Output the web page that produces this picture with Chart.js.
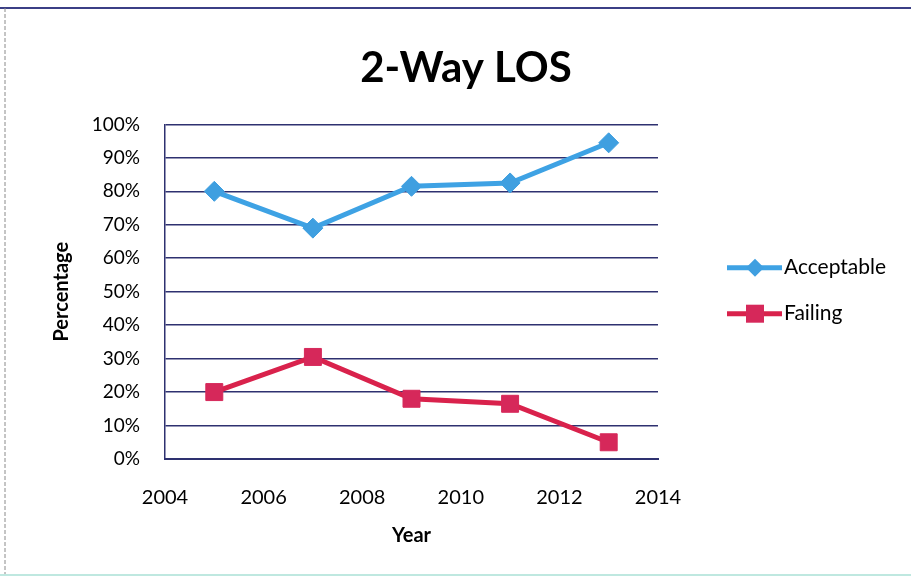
<!DOCTYPE html>
<html lang="en">
<head>
    <meta charset="UTF-8">
    <title>2-Way LOS</title>
    <script src="https://cdn.jsdelivr.net/npm/chart.js"></script>
    <style>
        html, body { margin: 0; padding: 0; background: #fff; }
        #wrap { position: relative; width: 911px; height: 577px; }
    </style>
</head>
<body>
<div id="wrap"><canvas id="losChart"></canvas></div>
<script>
    // data
    const years = [2005, 2007, 2009, 2011, 2013];
    const acceptable = [80, 69, 81.5, 82.5, 94.5];
    const failing = [20, 30.5, 18, 16.5, 5];
    const seriesNames = ['Acceptable', 'Failing'];
    const xTicks = [2004, 2006, 2008, 2010, 2012, 2014];
    const yTicks = [0, 10, 20, 30, 40, 50, 60, 70, 80, 90, 100];

    const FONT = "Lato, 'Open Sans', sans-serif";
    const gridColor = '#2e3170';

    // outer frame lines of the scanned chart
    const framePlugin = {
        id: 'frame',
        beforeDraw(chart) {
            const c = chart.ctx;
            c.save();
            c.fillStyle = '#fff';
            c.fillRect(0, 0, chart.width, chart.height);
            c.strokeStyle = '#3b3f86';
            c.lineWidth = 2;
            c.beginPath();
            c.moveTo(0, 8); c.lineTo(chart.width, 8);
            c.stroke();
            c.strokeStyle = '#8a8a8a';
            c.lineWidth = 1;
            c.setLineDash([4, 2]);
            c.beginPath();
            c.moveTo(5, 8); c.lineTo(5, chart.height);
            c.stroke();
            c.setLineDash([]);
            c.strokeStyle = '#bfe8e0';
            c.lineWidth = 2;
            c.beginPath();
            c.moveTo(0, 575); c.lineTo(chart.width, 575);
            c.stroke();
            c.restore();
        }
    };

    // legend on the right: line + marker + label
    const legendPlugin = {
        id: 'sideLegend',
        afterDraw(chart) {
            const c = chart.ctx;
            const mid = (chart.chartArea.top + chart.chartArea.bottom) / 2;
            const rows = [mid - 24, mid + 22];
            chart.data.datasets.forEach((ds, i) => {
                const y = rows[i];
                c.save();
                c.strokeStyle = ds.borderColor;
                c.lineWidth = 5;
                c.beginPath();
                c.moveTo(727, y); c.lineTo(782, y);
                c.stroke();
                c.fillStyle = ds.pointBackgroundColor;
                c.beginPath();
                if (ds.pointStyle === 'rectRot') {
                    const r = 9;
                    c.moveTo(755, y - r); c.lineTo(755 + r, y); c.lineTo(755, y + r); c.lineTo(755 - r, y);
                } else {
                    c.rect(755 - 9, y - 9, 18, 18);
                }
                c.closePath();
                c.fill();
                c.fillStyle = '#000';
                c.font = '21px ' + FONT;
                c.textBaseline = 'middle';
                c.fillText(ds.label, 784, y);
                c.restore();
            });
        }
    };

    new Chart(document.getElementById('losChart'), {
        type: 'line',
        data: {
            datasets: [{
                label: seriesNames[0],
                data: years.map((y, i) => ({ x: y, y: acceptable[i] })),
                borderColor: '#3ea2e4',
                borderWidth: 5,
                pointStyle: 'rectRot',
                pointRadius: 10,
                pointBackgroundColor: '#3f9fe0',
                pointBorderColor: '#3f9fe0',
                pointBorderWidth: 1,
                tension: 0
            }, {
                label: seriesNames[1],
                data: years.map((y, i) => ({ x: y, y: failing[i] })),
                borderColor: '#d9224c',
                borderWidth: 5,
                pointStyle: 'rect',
                pointRadius: 12,
                pointBackgroundColor: '#d6285a',
                pointBorderColor: '#d6285a',
                pointBorderWidth: 1,
                tension: 0
            }]
        },
        options: {
            responsive: true,
            maintainAspectRatio: false,
            animation: false,
            layout: { padding: { left: 50, right: 29, top: 0, bottom: 20 } },
            plugins: {
                legend: { display: false },
                tooltip: { enabled: false },
                title: {
                    display: true,
                    text: '2-Way LOS',
                    color: '#000',
                    font: { family: FONT, size: 42, weight: 'bold' },
                    padding: { top: 43, bottom: 31 }
                }
            },
            scales: {
                x: {
                    type: 'linear',
                    min: xTicks[0],
                    max: xTicks[xTicks.length - 1],
                    afterBuildTicks: s => { s.ticks = xTicks.map(v => ({ value: v })); },
                    afterFit: s => { s.height = 98; },
                    grid: { display: false, drawTicks: false },
                    border: { display: true, color: gridColor, width: 2 },
                    ticks: {
                        color: '#000',
                        padding: 27,
                        font: { family: FONT, size: 20 },
                        callback: v => String(v)
                    },
                    title: {
                        display: true,
                        text: 'Year',
                        color: '#000',
                        font: { family: FONT, size: 20, weight: 'bold' },
                        padding: { top: 0, bottom: 9 }
                    }
                },
                y: {
                    min: 0,
                    max: 100,
                    afterBuildTicks: s => { s.ticks = yTicks.map(v => ({ value: v })); },
                    afterFit: s => { s.width = 115; },
                    grid: { color: gridColor, lineWidth: 1.5, drawTicks: false },
                    border: { display: true, color: gridColor, width: 1.5 },
                    ticks: {
                        color: '#000',
                        padding: 25,
                        font: { family: FONT, size: 19 },
                        callback: v => v + '%'
                    },
                    title: {
                        display: true,
                        text: 'Percentage',
                        color: '#000',
                        font: { family: FONT, size: 20, weight: 'bold' },
                        padding: 0
                    }
                },
                // empty right axis that reserves the legend column
                side: {
                    position: 'right',
                    min: 0,
                    max: 100,
                    afterFit: s => { s.width = 224; },
                    grid: { display: false, drawTicks: false },
                    border: { display: false },
                    ticks: { display: false }
                }
            }
        },
        plugins: [framePlugin, legendPlugin]
    });
</script>
</body>
</html>
